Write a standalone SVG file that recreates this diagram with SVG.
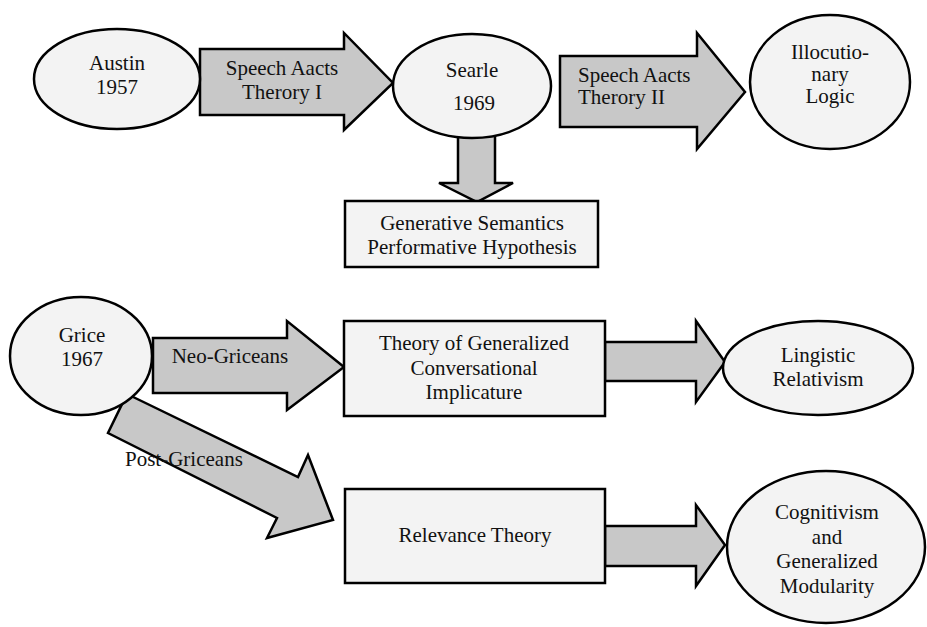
<svg xmlns="http://www.w3.org/2000/svg" width="927" height="627" viewBox="0 0 927 627" font-family="Liberation Serif" font-size="21">
<style>
.node{fill:#f3f3f3;stroke:#000;stroke-width:2.5}
.arrow{fill:#c8c8c8;stroke:#000;stroke-width:2.5;stroke-linejoin:miter}
.t{fill:#111}
.c{text-anchor:middle}
</style>
<rect width="927" height="627" fill="#fff"/>
<g id="connectors">
  <g id="arrow-austin-searle">
    <polygon class="arrow" points="200,49 344,49 344,33 393,83 344,130 344,115 200,115"/>
    <text class="t c" x="282" y="75">Speech Aacts</text>
    <text class="t c" x="282" y="99">Therory I</text>
  </g>
  <g id="arrow-searle-illocutionary">
    <polygon class="arrow" points="560,56 697,56 697,33 745,92 697,149 697,127 560,127"/>
    <text class="t" x="578" y="82">Speech Aacts</text>
    <text class="t" x="578" y="104">Therory II</text>
  </g>
  <g id="arrow-searle-generative">
    <polygon class="arrow" points="458,120 495,120 495,183 513,183 477,202 439,183 458,183"/>
  </g>
  <g id="arrow-grice-theory">
    <polygon class="arrow" points="153,338 287,338 287,321 344,367 287,410 287,393 153,393"/>
    <text class="t c" x="230" y="363">Neo-Griceans</text>
  </g>
  <g id="arrow-grice-relevance">
    <polygon class="arrow" points="127,394 298,477 308,455 333,520 267,538 277,518 108,433"/>
    <text class="t" x="125" y="466">Post-Griceans</text>
  </g>
  <g id="arrow-theory-lingistic">
    <polygon class="arrow" points="605,342 696,342 696,321 725,362 696,402 696,381 605,381"/>
  </g>
  <g id="arrow-relevance-cognitivism">
    <polygon class="arrow" points="605,526 696,526 696,505 725,545 696,586 696,566 605,566"/>
  </g>
</g>
<g id="austin">
  <ellipse class="node" cx="117" cy="79" rx="83" ry="50"/>
  <text class="t c" x="117" y="70">Austin</text>
  <text class="t c" x="117" y="94">1957</text>
</g>
<g id="searle">
  <ellipse class="node" cx="472" cy="86" rx="79" ry="52"/>
  <text class="t c" x="472" y="77">Searle</text>
  <text class="t c" x="474" y="110">1969</text>
</g>
<g id="illocutionary">
  <ellipse class="node" cx="830" cy="82" rx="80" ry="67"/>
  <text class="t c" x="830" y="59">Illocutio-</text>
  <text class="t c" x="830" y="81">nary</text>
  <text class="t c" x="830" y="103">Logic</text>
</g>
<g id="generative">
  <rect class="node" x="345" y="201" width="253" height="66"/>
  <text class="t c" x="472" y="230">Generative Semantics</text>
  <text class="t c" x="472" y="254">Performative Hypothesis</text>
</g>
<g id="grice">
  <ellipse class="node" cx="81" cy="356" rx="71" ry="59"/>
  <text class="t c" x="82" y="342">Grice</text>
  <text class="t c" x="82" y="366">1967</text>
</g>
<g id="theory">
  <rect class="node" x="344" y="321" width="261" height="95"/>
  <text class="t c" x="474" y="350">Theory of Generalized</text>
  <text class="t c" x="474" y="375">Conversational</text>
  <text class="t c" x="474" y="399">Implicature</text>
</g>
<g id="lingistic">
  <ellipse class="node" cx="818" cy="368" rx="95" ry="47"/>
  <text class="t c" x="818" y="362">Lingistic</text>
  <text class="t c" x="818" y="386">Relativism</text>
</g>
<g id="relevance">
  <rect class="node" x="345" y="489" width="260" height="94"/>
  <text class="t c" x="475" y="542">Relevance Theory</text>
</g>
<g id="cognitivism">
  <ellipse class="node" cx="826" cy="547" rx="99" ry="76"/>
  <text class="t c" x="827" y="519">Cognitivism</text>
  <text class="t c" x="827" y="544">and</text>
  <text class="t c" x="827" y="568">Generalized</text>
  <text class="t c" x="827" y="593">Modularity</text>
</g>
</svg>
